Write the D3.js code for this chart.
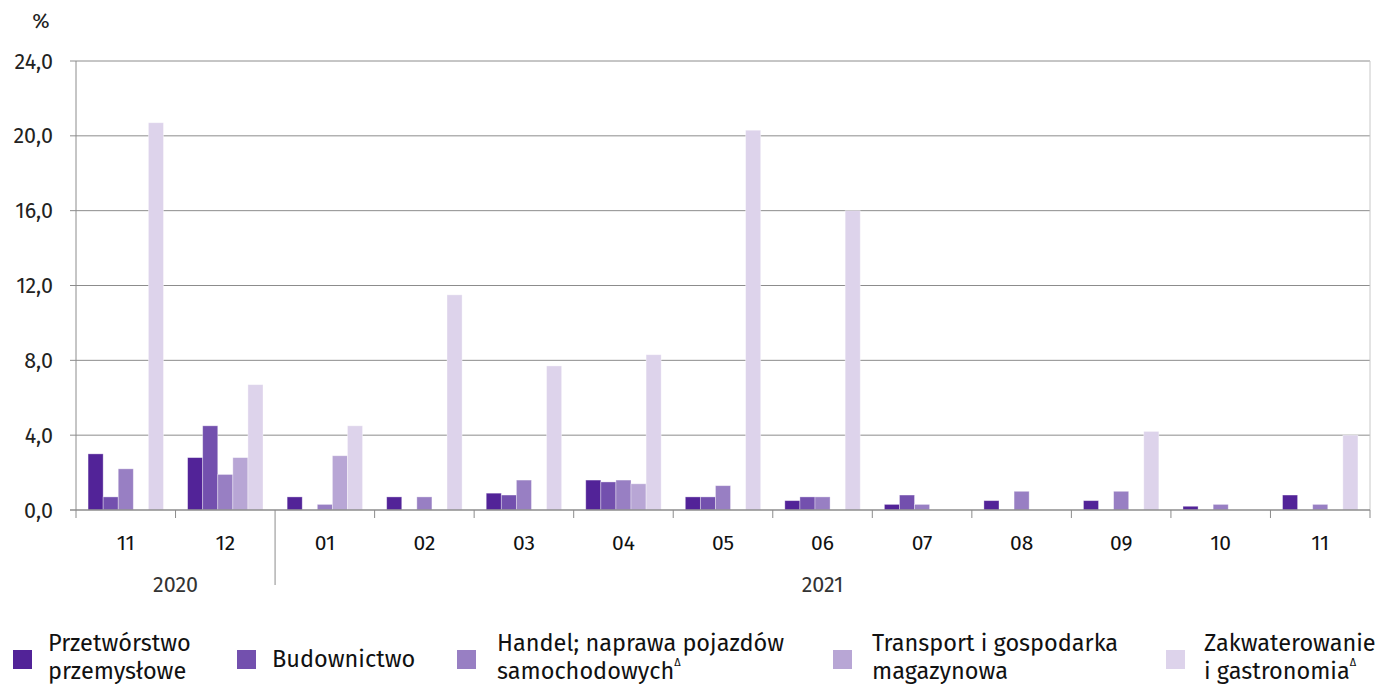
<!DOCTYPE html>
<html><head><meta charset="utf-8">
<script src="https://cdn.jsdelivr.net/npm/d3@7"></script>
<style>body{margin:0;background:#fff;font-family:"Fira Sans","Noto Sans","Open Sans",sans-serif;}</style>
</head><body>
<svg id="c" width="1384" height="684"></svg>
<script>
const months = ["11","12","01","02","03","04","05","06","07","08","09","10","11"];
const years = [{label:"2020", from:0, to:2},{label:"2021", from:2, to:13}];
const seriesNames = ["Przetwórstwo przemysłowe","Budownictwo","Handel; naprawa pojazdów samochodowych","Transport i gospodarka magazynowa","Zakwaterowanie i gastronomia"];
const przetworstwo = [3.0,2.8,0.7,0.7,0.9,1.6,0.7,0.5,0.3,0.5,0.5,0.2,0.8];
const budownictwo  = [0.7,4.5,0,0,0.8,1.5,0.7,0.7,0.8,0,0,0,0];
const handel       = [2.2,1.9,0.3,0.7,1.6,1.6,1.3,0.7,0.3,1.0,1.0,0.3,0.3];
const transport    = [0,2.8,2.9,0,0,1.4,0,0,0,0,0,0,0];
const zakwaterowanie = [20.7,6.7,4.5,11.5,7.7,8.3,20.3,16.0,0,0,4.2,0,4.0];
const yTicks = [0,4,8,12,16,20,24];
const colors = ["#522398","#7350ae","#987fc3","#b8a6d5","#ddd3eb"];

const series = [przetworstwo,budownictwo,handel,transport,zakwaterowanie];
const svg = d3.select("#c");
const L=76, R=1370, T=61, B=510;
const x = d3.scaleBand().domain(d3.range(months.length)).range([L,R]).paddingInner(0).paddingOuter(0);
const xs = d3.scaleBand().domain(d3.range(5)).range([0,x.bandwidth()]).paddingOuter(0.8).paddingInner(0);
const y = d3.scaleLinear().domain([0,24]).range([B,T]);
const fmt = v => d3.format(".1f")(v).replace(".",",");

// gridlines
svg.append("g").selectAll("line").data(yTicks.filter(d=>d>0)).join("line")
  .attr("x1",L-6).attr("x2",R).attr("y1",d=>y(d)).attr("y2",d=>y(d))
  .attr("stroke","#8c8c8c").attr("stroke-width",1);
// right border
svg.append("line").attr("x1",R).attr("x2",R).attr("y1",T).attr("y2",B).attr("stroke","#c8c8c8");
// y labels
svg.append("g").selectAll("text").data(yTicks).join("text")
  .attr("x",53).attr("y",d=>y(d)).attr("dy","0.35em").attr("text-anchor","end")
  .attr("font-size",21.5).attr("fill","#222").text(fmt);
svg.append("text").attr("x",41).attr("y",21).attr("dy","0.35em").attr("text-anchor","middle")
  .attr("font-size",21).attr("fill","#222").text("%");

// bars
series.forEach((s,si)=>{
  svg.append("g").selectAll("rect").data(s.map((v,i)=>({v,i}))).join("rect")
    .filter(d=>d.v>0)
    .attr("x",d=>x(d.i)+xs(si)).attr("width",xs.bandwidth())
    .attr("y",d=>y(d.v)).attr("height",d=>y(0)-y(d.v))
    .attr("fill",colors[si]).attr("stroke","#ffffff").attr("stroke-opacity",0.45).attr("stroke-width",0.8);
});

// axes lines
svg.append("line").attr("x1",L).attr("x2",L).attr("y1",T).attr("y2",B).attr("stroke","#8c8c8c");
svg.append("line").attr("x1",L-6).attr("x2",R).attr("y1",B).attr("y2",B).attr("stroke","#8c8c8c").attr("stroke-width",1.5);
// ticks at band boundaries
const bounds = d3.range(months.length+1).map(i=> i<months.length ? x(i) : R);
svg.append("g").selectAll("line").data(bounds).join("line")
  .attr("x1",d=>d).attr("x2",d=>d).attr("y1",B).attr("y2",(d,i)=> i===2 ? 585 : 518)
  .attr("stroke","#8c8c8c");
// month labels
svg.append("g").selectAll("text").data(months).join("text")
  .attr("x",(d,i)=>x(i)+x.bandwidth()/2).attr("y",543).attr("dy","0.35em").attr("text-anchor","middle")
  .attr("font-size",21).attr("fill","#111").text(d=>d);
// year labels
svg.append("g").selectAll("text").data(years).join("text")
  .attr("x",d=>(x(d.from)+(d.to<months.length?x(d.to):R))/2).attr("y",584).attr("dy","0.35em").attr("text-anchor","middle")
  .attr("font-size",21.5).attr("fill","#333").text(d=>d.label);

// legend
const legend = [
  {lines:["Przetwórstwo","przemysłowe"], sq:13, tx:48, sup:false},
  {lines:["Budownictwo"], sq:237, tx:272, sup:false},
  {lines:["Handel; naprawa pojazdów","samochodowych"], sq:457, tx:497, sup:true},
  {lines:["Transport i gospodarka","magazynowa"], sq:833, tx:872, sup:false},
  {lines:["Zakwaterowanie","i gastronomia"], sq:1166, tx:1204, sup:true}
];
legend.forEach((l,i)=>{
  svg.append("rect").attr("x",l.sq).attr("y",650).attr("width",19).attr("height",19).attr("fill",colors[i]);
  const t = svg.append("text").attr("font-size",23.5).attr("fill","#111");
  if(l.lines.length===1){
    t.append("tspan").attr("x",l.tx).attr("y",659).attr("dy","0.35em").text(l.lines[0]);
  } else {
    t.append("tspan").attr("x",l.tx).attr("y",643).attr("dy","0.35em").text(l.lines[0]);
    t.append("tspan").attr("x",l.tx).attr("y",671).attr("dy","0.35em").text(l.lines[1]);
    if(l.sup) t.append("tspan").attr("font-size",11).attr("dy","-1.2em").text("\u0394");
  }
});
</script>
</body></html>
